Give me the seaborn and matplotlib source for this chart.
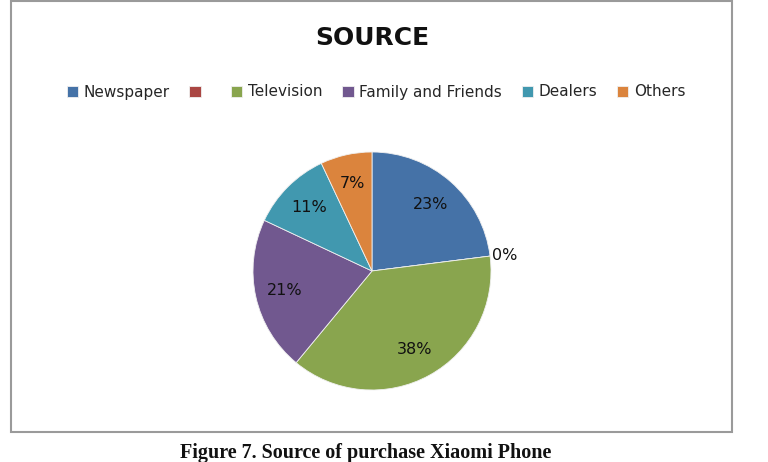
import matplotlib
matplotlib.use("Agg")
import matplotlib.pyplot as plt
import seaborn as sns
from matplotlib.patches import Rectangle

# dados
categories = ['Newspaper', ' ', 'Television', 'Family and Friends', 'Dealers', 'Others']
values = [23, 0, 38, 21, 11, 7]
colors = ['#4572A7', '#AA4643', '#89A54E', '#71588F', '#4198AF', '#DB843D']
title = 'SOURCE'
caption = 'Figure 7. Source of purchase Xiaomi Phone'


def main():
    sns.set_theme(style='white')
    plt.rcParams['font.family'] = ['DejaVu Sans']

    fig = plt.figure(figsize=(7.68, 4.62), dpi=100)

    # moldura do gráfico
    fig.patches.append(Rectangle((11 / 768, 30 / 462), 721 / 768, 431 / 462,
                                 transform=fig.transFigure, fill=False,
                                 edgecolor='#9a9a9a', linewidth=1.5))

    ax = fig.add_axes([(372 - 119) / 768, (462 - 271 - 119) / 462, 238 / 768, 238 / 462])

    # rótulo externo só para a fatia vazia
    outer = [f'{v}%' if v == 0 else '' for v in values]
    wedges, texts, autotexts = ax.pie(
        values, colors=colors, startangle=90, counterclock=False,
        labels=outer, labeldistance=1.02,
        autopct=lambda p: f'{p:.0f}%' if p > 0 else '', pctdistance=0.75,
        wedgeprops=dict(edgecolor='#f0f0f0', linewidth=0.6),
        textprops=dict(fontsize=11.5, color='#111111'))
    ax.set_xlim(-1, 1)
    ax.set_ylim(-1, 1)
    ax.set_aspect('equal')

    fig.text(372 / 768, 1 - 38 / 462, title, ha='center', va='center',
             fontsize=18, fontweight='bold', color='#111111')

    fig.legend(wedges, categories, loc='center', bbox_to_anchor=(376 / 768, 1 - 92 / 462),
               ncol=6, frameon=False, fontsize=11, handlelength=0.75, handleheight=0.75,
               handletextpad=0.35, columnspacing=1.3)

    fig.text(366 / 768, 1 - 453 / 462, caption, ha='center', va='center',
             fontsize=14.5, fontweight='bold', family='Liberation Serif', color='#111111')

    fig.savefig('out.png', dpi=100)


if __name__ == "__main__":
    main()
